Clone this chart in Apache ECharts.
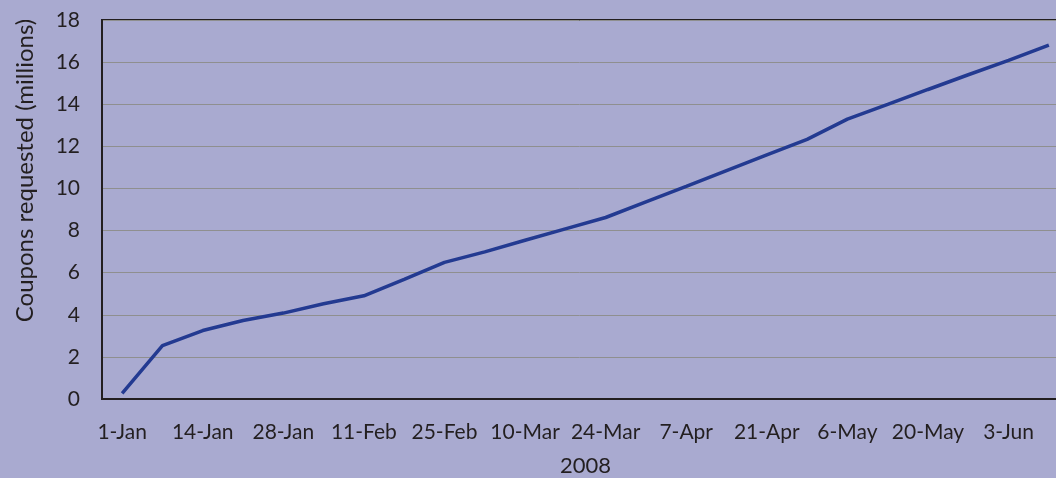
<!DOCTYPE html>
<html>
<head>
<meta charset="utf-8">
<script src="https://cdn.jsdelivr.net/npm/echarts@6/dist/echarts.min.js"></script>
<style>
  html, body { margin: 0; padding: 0; background: #a9aad0; }
  #chart { width: 1056px; height: 478px; }
</style>
</head>
<body>
<div id="chart"></div>
<script>
// weekly points, only every other label is shown
var weeks = ['1-Jan', '7-Jan', '14-Jan', '21-Jan', '28-Jan', '4-Feb', '11-Feb', '18-Feb',
  '25-Feb', '3-Mar', '10-Mar', '17-Mar', '24-Mar', '31-Mar', '7-Apr', '14-Apr',
  '21-Apr', '28-Apr', '6-May', '13-May', '20-May', '27-May', '3-Jun', '10-Jun'];
var coupons = [0.27, 2.54, 3.25, 3.73, 4.08, 4.52, 4.9, 5.68,
  6.49, 6.99, 7.54, 8.08, 8.62, 9.36, 10.1, 10.85,
  11.59, 12.33, 13.29, 13.99, 14.7, 15.4, 16.08, 16.81];
var yTicks = { min: 0, max: 18, step: 2 };

var font = 'Lato';
var ink = '#231f20';
var chart = echarts.init(document.getElementById('chart'));

var option = {
  backgroundColor: '#a9aad0',
  animation: false,
  grid: {
    // plot runs past the right edge of the picture
    left: 102, top: 20, right: -13, bottom: 79,
    outerBoundsMode: 'none',
    containLabel: false,
    show: true, borderColor: ink, borderWidth: 2, backgroundColor: 'transparent'
  },
  xAxis: [{
    type: 'category',
    data: weeks,
    boundaryGap: true,
    name: '2008',
    nameLocation: 'middle',
    nameGap: 56,
    nameTextStyle: { fontFamily: font, fontSize: 22, color: ink },
    axisLine: { lineStyle: { color: ink, width: 2 } },
    axisTick: { interval: 1, length: 14, lineStyle: { color: ink, width: 2 } },
    axisLabel: { interval: 1, margin: 23, fontFamily: font, fontSize: 21, color: ink }
  }, {
    // short ticks for the in-between weeks
    type: 'category',
    data: weeks,
    position: 'bottom',
    boundaryGap: true,
    axisLine: { show: false },
    axisTick: { interval: 0, length: 7, lineStyle: { color: ink, width: 2 } },
    axisLabel: { show: false }
  }],
  yAxis: {
    type: 'value',
    min: yTicks.min, max: yTicks.max, interval: yTicks.step,
    name: 'Coupons requested (millions)',
    nameLocation: 'middle',
    nameGap: 65,
    nameTextStyle: { fontFamily: font, fontSize: 24, color: ink, padding: [0, 0, 0, 78] },
    axisLine: { show: true, lineStyle: { color: ink, width: 2 } },
    axisTick: { show: false },
    axisLabel: { margin: 22, fontFamily: font, fontSize: 21, color: ink },
    splitLine: { lineStyle: { color: '#8f8f8f', width: 1 } }
  },
  series: [{
    type: 'line',
    data: coupons,
    showSymbol: false,
    lineStyle: { color: '#233a91', width: 3.5 },
    z: 1
  }]
};
chart.setOption(option);
</script>
</body>
</html>
